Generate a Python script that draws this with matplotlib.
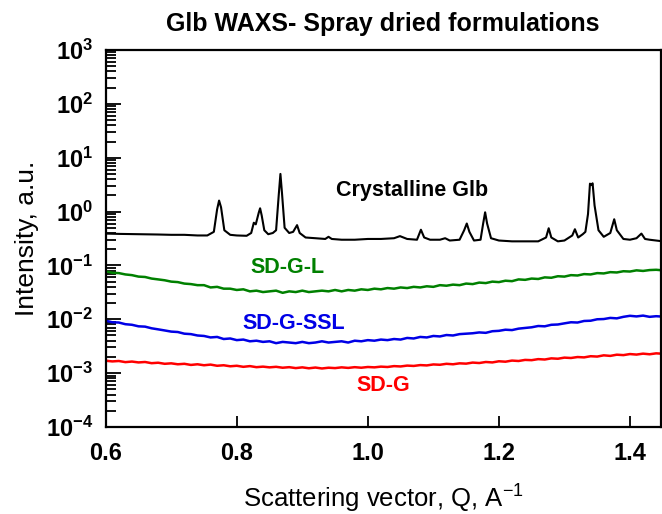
import numpy as np
import matplotlib
matplotlib.use("Agg")
import matplotlib.pyplot as plt
from matplotlib.ticker import FixedLocator, FixedFormatter, LogLocator, NullFormatter, NullLocator

plt.rcParams['font.family'] = ['Liberation Sans', 'DejaVu Sans']
plt.rcParams['mathtext.fontset'] = 'custom'
plt.rcParams['mathtext.rm'] = 'Liberation Sans'
plt.rcParams['mathtext.bf'] = 'Liberation Sans:bold'
plt.rcParams['mathtext.it'] = 'Liberation Sans:italic'

# ---------------- data ----------------
title = "Glb WAXS- Spray dried formulations"
xlabel = "Scattering vector, Q, A"
ylabel = "Intensity, a.u."
xticks = [0.6, 0.8, 1.0, 1.2, 1.4]
xticklabels = ["0.6", "0.8", "1.0", "1.2", "1.4"]
yexp = [-4, -3, -2, -1, 0, 1, 2, 3]

# Crystalline Glb (q, I)
q_cryst = [0.600, 0.620, 0.650, 0.680, 0.700, 0.720, 0.740, 0.755, 0.765, 0.770, 0.773, 0.776,
           0.781, 0.790, 0.800, 0.815, 0.822, 0.826, 0.829, 0.8335, 0.8356, 0.838, 0.842, 0.848,
           0.855, 0.860, 0.864, 0.8666, 0.869, 0.873, 0.880, 0.886, 0.892, 0.896, 0.905, 0.920,
           0.935, 0.940, 0.945, 0.960, 0.980, 1.000, 1.020, 1.040, 1.049, 1.060, 1.075, 1.081,
           1.086, 1.095, 1.110, 1.118, 1.125, 1.140, 1.147, 1.151, 1.155, 1.162, 1.172, 1.176,
           1.179, 1.182, 1.188, 1.200, 1.220, 1.240, 1.260, 1.272, 1.276, 1.280, 1.290, 1.300,
           1.312, 1.316, 1.321, 1.328, 1.332, 1.336, 1.339, 1.341, 1.343, 1.346, 1.352, 1.360,
           1.370, 1.376, 1.380, 1.390, 1.400, 1.410, 1.4175, 1.423, 1.430, 1.440, 1.450]
I_cryst = [0.39, 0.385, 0.38, 0.375, 0.37, 0.37, 0.36, 0.36, 0.42, 1.10, 1.60, 1.20,
           0.45, 0.37, 0.36, 0.355, 0.40, 0.62, 0.58, 0.95, 1.15, 0.85, 0.45, 0.38,
           0.40, 0.45, 2.00, 5.00, 2.20, 0.50, 0.40, 0.42, 0.56, 0.40, 0.33, 0.32,
           0.31, 0.34, 0.31, 0.30, 0.30, 0.31, 0.31, 0.32, 0.35, 0.31, 0.30, 0.46,
           0.33, 0.30, 0.30, 0.32, 0.29, 0.30, 0.45, 0.60, 0.42, 0.29, 0.30, 0.60,
           0.97, 0.60, 0.32, 0.29, 0.28, 0.28, 0.28, 0.33, 0.49, 0.33, 0.28, 0.29,
           0.36, 0.47, 0.33, 0.38, 0.42, 0.90, 3.30, 3.10, 3.35, 1.30, 0.45, 0.34,
           0.40, 0.72, 0.45, 0.31, 0.30, 0.32, 0.39, 0.31, 0.30, 0.29, 0.28]

q_amorph = np.round(np.arange(0.60, 1.4501, 0.01), 2)

I_sdgl = [0.078, 0.073, 0.072, 0.068, 0.066, 0.062, 0.061, 0.057, 0.055, 0.053,
          0.050, 0.049, 0.046, 0.045, 0.043, 0.043, 0.039, 0.040, 0.037, 0.037,
          0.035, 0.036, 0.033, 0.034, 0.032, 0.033, 0.034, 0.031, 0.033, 0.032,
          0.034, 0.032, 0.033, 0.034, 0.033, 0.035, 0.033, 0.035, 0.034, 0.036,
          0.035, 0.037, 0.036, 0.038, 0.037, 0.039, 0.038, 0.040, 0.039, 0.041,
          0.040, 0.043, 0.042, 0.044, 0.043, 0.046, 0.045, 0.048, 0.047, 0.050,
          0.049, 0.052, 0.051, 0.055, 0.054, 0.057, 0.056, 0.060, 0.059, 0.063,
          0.062, 0.066, 0.065, 0.069, 0.068, 0.072, 0.071, 0.075, 0.074, 0.078,
          0.077, 0.081, 0.079, 0.082, 0.083, 0.081]

I_sdgssl = [0.0094, 0.0088, 0.0087, 0.0081, 0.0079, 0.0074, 0.0073, 0.0068, 0.0065, 0.0062,
            0.0059, 0.0058, 0.0054, 0.0053, 0.0050, 0.0049, 0.0046, 0.0047, 0.0043, 0.0044,
            0.0041, 0.0042, 0.0039, 0.0040, 0.0038, 0.0039, 0.0036, 0.0038, 0.0037, 0.0036,
            0.0038, 0.0036, 0.0037, 0.0039, 0.0037, 0.0038, 0.0039, 0.0037, 0.0040, 0.0039,
            0.0041, 0.0040, 0.0042, 0.0041, 0.0043, 0.0042, 0.0045, 0.0044, 0.0047, 0.0046,
            0.0049, 0.0048, 0.0051, 0.0050, 0.0053, 0.0054, 0.0055, 0.0057, 0.0056, 0.0060,
            0.0061, 0.0064, 0.0063, 0.0067, 0.0069, 0.0071, 0.0075, 0.0074, 0.0079, 0.0080,
            0.0084, 0.0088, 0.0087, 0.0093, 0.0094, 0.0100, 0.0101, 0.0106, 0.0104, 0.0111,
            0.0116, 0.0113, 0.0117, 0.0111, 0.0114, 0.0112]

I_sdg = [0.00170, 0.00165, 0.00168, 0.00160, 0.00164, 0.00158, 0.00161, 0.00153, 0.00156, 0.00149,
         0.00152, 0.00146, 0.00149, 0.00142, 0.00146, 0.00140, 0.00144, 0.00137, 0.00140, 0.00134,
         0.00137, 0.00131, 0.00135, 0.00129, 0.00132, 0.00128, 0.00131, 0.00126, 0.00129, 0.00124,
         0.00128, 0.00123, 0.00127, 0.00122, 0.00126, 0.00124, 0.00128, 0.00125, 0.00129, 0.00126,
         0.00130, 0.00128, 0.00132, 0.00130, 0.00135, 0.00133, 0.00138, 0.00136, 0.00141, 0.00139,
         0.00145, 0.00143, 0.00149, 0.00146, 0.00152, 0.00150, 0.00157, 0.00154, 0.00161, 0.00158,
         0.00166, 0.00163, 0.00171, 0.00168, 0.00176, 0.00174, 0.00182, 0.00179, 0.00188, 0.00185,
         0.00194, 0.00191, 0.00199, 0.00196, 0.00206, 0.00203, 0.00214, 0.00209, 0.00220, 0.00216,
         0.00226, 0.00221, 0.00230, 0.00224, 0.00233, 0.00229]

# ---------------- figure ----------------
fig = plt.figure(figsize=(6.62, 5.14), dpi=100)
ax = fig.add_axes([0.1597, 0.1693, 0.8384, 0.7334])

c_green, c_blue, c_red = '#008000', '#0000e6', '#ff0000'

ax.plot(q_cryst, I_cryst, color='black', lw=1.5)
ax.plot(q_amorph, I_sdgl, color=c_green, lw=1.8)
ax.plot(q_amorph, I_sdgssl, color=c_blue, lw=1.8)
ax.plot(q_amorph, I_sdg, color=c_red, lw=1.8)

ax.set_yscale('log')
ax.set_xlim(0.6, 1.447)
ax.set_ylim(1e-4, 1e3)

ax.xaxis.set_major_locator(FixedLocator(xticks))
ax.xaxis.set_major_formatter(FixedFormatter(xticklabels))
ax.xaxis.set_minor_locator(NullLocator())
ax.yaxis.set_major_locator(FixedLocator([10.0 ** e for e in yexp]))
ax.yaxis.set_major_formatter(FixedFormatter([r'$\mathbf{10^{%d}}$' % e for e in yexp]))
ax.yaxis.set_minor_locator(LogLocator(base=10, subs=np.arange(2, 10), numticks=20))
ax.yaxis.set_minor_formatter(NullFormatter())

ax.tick_params(axis='both', which='both', direction='in', top=False, right=False, width=1.3)
ax.tick_params(axis='y', which='major', length=11, pad=9)
ax.tick_params(axis='y', which='minor', length=7)
ax.tick_params(axis='x', which='major', length=8, pad=10.5)
for lab in ax.get_xticklabels() + ax.get_yticklabels():
    lab.set_fontsize(17)
    lab.set_fontweight('bold')
for s in ax.spines.values():
    s.set_linewidth(1.6)

ax.set_xlabel(xlabel + r'$^{\mathrm{-1}}$', fontsize=18.5)
ax.set_ylabel(ylabel, fontsize=19)
ax.xaxis.set_label_coords(0.5, -0.148)
ax.yaxis.set_label_coords(-0.12, 0.5)

fig.text(0.578, 0.953, title, ha='center', va='center', fontsize=18, fontweight='bold')

ax.text(1.068, 2.5, "Crystalline Glb", ha='center', va='center', fontsize=15.5, fontweight='bold', color='black')
ax.text(0.878, 0.092, "SD-G-L", ha='center', va='center', fontsize=15.5, fontweight='bold', color=c_green)
ax.text(0.8875, 0.0082, "SD-G-SSL", ha='center', va='center', fontsize=15.5, fontweight='bold', color=c_blue)
ax.text(1.0234, 0.00059, "SD-G", ha='center', va='center', fontsize=15.5, fontweight='bold', color=c_red)

fig.savefig('out.png', dpi=100)
